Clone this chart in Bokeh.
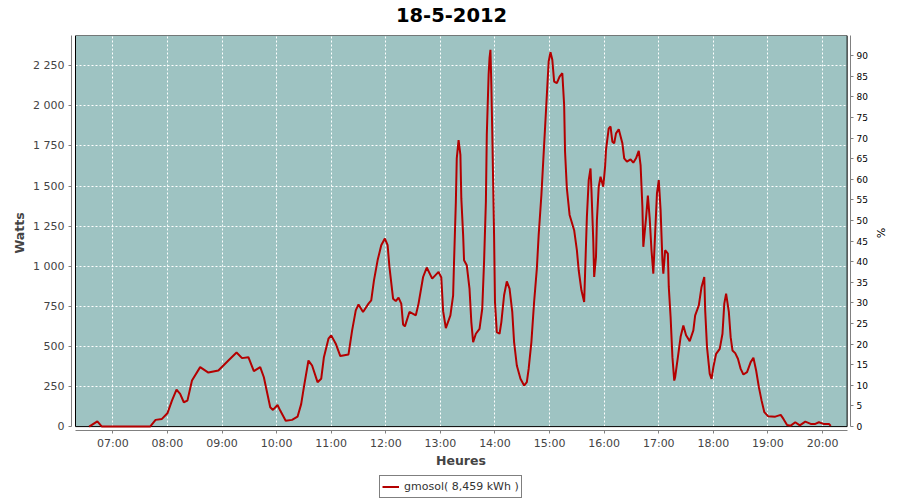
from bokeh.plotting import figure
from bokeh.layouts import column
from bokeh.models import (Range1d, LinearAxis, FixedTicker, BoxAnnotation,
                          Legend, LegendItem, Label)
from bokeh.embed import file_html
from bokeh.resources import INLINE

# ---------------- data ----------------
title_text = "18-5-2012"
series_name = "gmosol( 8,459 kWh )"
x_axis_label = "Heures"
y_axis_label = "Watts"
y2_axis_label = "%"

times = ["06:34", "06:43", "06:48", "07:41", "07:47", "07:54", "08:00", "08:05", "08:10", "08:14",
         "08:18", "08:22", "08:27", "08:36", "08:45", "08:56", "09:07", "09:16", "09:22", "09:29",
         "09:35", "09:42", "09:46", "09:53", "09:56", "10:01", "10:04", "10:10", "10:17", "10:23",
         "10:27", "10:30", "10:35", "10:39", "10:45", "10:49", "10:52", "10:57", "11:00", "11:05",
         "11:10", "11:19", "11:23", "11:27", "11:30", "11:35", "11:41", "11:44", "11:47", "11:51",
         "11:55", "11:59", "12:02", "12:04", "12:08", "12:11", "12:14", "12:17", "12:19", "12:21",
         "12:26", "12:33", "12:36", "12:41", "12:45", "12:51", "12:58", "13:01", "13:03", "13:06",
         "13:11", "13:14", "13:15", "13:17", "13:18", "13:20", "13:22", "13:23", "13:25", "13:26",
         "13:29", "13:32", "13:34", "13:36", "13:39", "13:43", "13:46", "13:48", "13:50", "13:51",
         "13:53", "13:54", "13:55", "13:56", "13:57", "13:59", "14:00", "14:02", "14:05", "14:07",
         "14:10", "14:13", "14:16", "14:19", "14:21", "14:24", "14:28", "14:32", "14:35", "14:37",
         "14:40", "14:43", "14:46", "14:48", "14:51", "14:54", "14:57", "14:59", "15:01", "15:03",
         "15:05", "15:08", "15:11", "15:14", "15:16", "15:17", "15:19", "15:22", "15:27", "15:30",
         "15:32", "15:35", "15:38", "15:39", "15:41", "15:43", "15:45", "15:46", "15:48", "15:49",
         "15:51", "15:52", "15:54", "15:56", "15:59", "16:01", "16:02", "16:05", "16:07", "16:09",
         "16:11", "16:13", "16:16", "16:20", "16:22", "16:25", "16:29", "16:32", "16:35", "16:38",
         "16:40", "16:42", "16:43", "16:46", "16:48", "16:50", "16:52", "16:54", "16:56", "16:58",
         "17:00", "17:02", "17:04", "17:05", "17:07", "17:10", "17:11", "17:13", "17:15", "17:17",
         "17:18", "17:21", "17:24", "17:27", "17:30", "17:34", "17:38", "17:40", "17:44", "17:47",
         "17:50", "17:51", "17:53", "17:56", "17:58", "18:00", "18:03", "18:07", "18:10", "18:12",
         "18:14", "18:17", "18:19", "18:21", "18:24", "18:27", "18:30", "18:33", "18:37", "18:41",
         "18:44", "18:47", "18:50", "18:53", "18:56", "19:00", "19:08", "19:14", "19:17", "19:21",
         "19:25", "19:30", "19:35", "19:41", "19:47", "19:52", "19:56", "20:01", "20:07", "20:09"]

watts = [0, 33, 0, 0, 42, 48, 83, 162, 231, 204,
         152, 162, 287, 371, 337, 350, 412, 462, 427, 433,
         346, 371, 308, 121, 104, 135, 100, 37, 42, 62,
         140, 246, 412, 381, 277, 298, 433, 548, 569, 517,
         440, 450, 600, 725, 762, 715, 767, 787, 912, 1037,
         1131, 1173, 1131, 996, 798, 783, 804, 767, 637, 625,
         715, 694, 767, 933, 992, 923, 965, 930, 720, 614,
         694, 819, 1027, 1402, 1673, 1787, 1694, 1423, 1194, 1037,
         1006, 860, 652, 527, 579, 610, 735, 1027, 1402, 1819,
         2194, 2298, 2350, 2131, 1839, 1194, 777, 589, 579, 652,
         819, 906, 860, 715, 527, 381, 298, 256, 277, 360,
         527, 777, 985, 1194, 1444, 1756, 2069, 2277, 2335, 2288,
         2152, 2142, 2183, 2204, 2006, 1714, 1485, 1320, 1225, 1100,
         975, 850, 777, 954, 1308, 1537, 1610, 1475, 1162, 933,
         1058, 1287, 1496, 1558, 1496, 1621, 1725, 1860, 1871, 1777,
         1767, 1829, 1854, 1767, 1673, 1652, 1667, 1646, 1673, 1719,
         1631, 1371, 1121, 1300, 1440, 1300, 1100, 954, 1204, 1454,
         1537, 1350, 1037, 954, 1100, 1079, 871, 683, 433, 287,
         308, 433, 560, 631, 570, 533, 600, 694, 756, 871,
         933, 725, 496, 329, 298, 371, 454, 485, 579, 767,
         829, 715, 558, 475, 458, 423, 360, 325, 340, 402,
         429, 350, 246, 162, 90, 65, 62, 73, 48, 10,
         6, 27, 8, 31, 17, 17, 27, 17, 17, 4]

x_tick_labels = ["07:00", "08:00", "09:00", "10:00", "11:00", "12:00", "13:00",
                 "14:00", "15:00", "16:00", "17:00", "18:00", "19:00", "20:00"]
y_ticks = [0, 250, 500, 750, 1000, 1250, 1500, 1750, 2000, 2250]
y_tick_labels = ["0", "250", "500", "750", "1 000", "1 250", "1 500", "1 750", "2 000", "2 250"]
pct_ticks = [0, 5, 10, 15, 20, 25, 30, 35, 40, 45, 50, 55, 60, 65, 70, 75, 80, 85, 90]


def to_minutes(t):
    h, m = t.split(":")
    return int(h) * 60 + int(m)


xs = [to_minutes(t) for t in times]
x_ticks = [to_minutes(t) for t in x_tick_labels]

# ---------------- style ----------------
PLOT_BG = "#9EC3C2"
LINE_COL = "#B40000"
AXIS_COL = "#808080"
TEXT_COL = "#444444"
FONT = "DejaVu Sans"
W = 900
BORDER_L, BORDER_R = 71, 50

data_x0, data_x1 = 379, 1227     # minutes: visible data area
data_y1 = 2439

# ---------------- title strip ----------------
hd = figure(width=W, height=30, output_backend="svg", toolbar_location=None,
            x_axis_location=None, y_axis_location=None, title=None,
            x_range=Range1d(BORDER_L, W - BORDER_R), y_range=Range1d(0, 30),
            min_border_left=BORDER_L, min_border_right=BORDER_R,
            min_border_top=0, min_border_bottom=0)
hd.outline_line_color = None
hd.xgrid.visible = False
hd.ygrid.visible = False
hd.background_fill_color = "white"
hd.border_fill_color = "white"
hd.add_layout(Label(x=451, y=16, text=title_text, text_align="center",
                    text_baseline="middle", text_font=FONT, text_font_size="19.5px",
                    text_font_style="bold", text_color="black"))

# ---------------- main chart ----------------
p = figure(width=W, height=440, output_backend="svg", toolbar_location=None, title=None,
           x_range=Range1d(374.6, 1230.7), y_range=Range1d(-24.3, data_y1),
           min_border_left=BORDER_L, min_border_right=BORDER_R,
           min_border_top=5, min_border_bottom=40)
p.outline_line_color = None
p.background_fill_color = "white"
p.border_fill_color = "white"

p.extra_y_ranges = {"pct": Range1d(-0.95, 94.9)}

bg = BoxAnnotation(left=data_x0, right=data_x1, bottom=0, top=data_y1,
                   fill_color=PLOT_BG, fill_alpha=1, line_color=None, level="image")
p.add_layout(bg)

p.xgrid.ticker = FixedTicker(ticks=x_ticks)
p.ygrid.ticker = FixedTicker(ticks=y_ticks[1:])
for g in (p.xgrid, p.ygrid):
    g.grid_line_color = "white"
    g.grid_line_width = 1
    g.grid_line_dash = "2 2"
    g.grid_line_alpha = 1

border = BoxAnnotation(left=data_x0, right=data_x1, bottom=0, top=data_y1,
                       fill_alpha=0, line_color="black", line_width=1, line_alpha=1,
                       level="underlay")
p.add_layout(border)

p.line(xs, watts, line_color=LINE_COL, line_width=2)

xa = p.xaxis[0]
xa.ticker = FixedTicker(ticks=x_ticks)
xa.major_label_overrides = {t: l for t, l in zip(x_ticks, x_tick_labels)}
xa.bounds = (data_x0, data_x1)
xa.axis_label = x_axis_label
xa.axis_label_standoff = 0
xa.major_label_standoff = 3

ya = p.yaxis[0]
ya.ticker = FixedTicker(ticks=y_ticks)
ya.major_label_overrides = {t: l for t, l in zip(y_ticks, y_tick_labels)}
ya.bounds = (0, data_y1)
ya.axis_label = y_axis_label
ya.axis_label_standoff = 3
ya.major_label_standoff = 4

ra = LinearAxis(y_range_name="pct", ticker=FixedTicker(ticks=pct_ticks),
                axis_label=y2_axis_label, bounds=(0, 94.9))
p.add_layout(ra, "right")
ra.axis_label_standoff = 3
ra.major_label_standoff = 3

for ax in (xa, ya, ra):
    ax.axis_line_color = AXIS_COL
    ax.axis_line_width = 1
    ax.major_tick_line_color = AXIS_COL
    ax.major_tick_in = 0
    ax.major_tick_out = 3
    ax.minor_tick_line_color = None
    ax.major_label_text_font = FONT
    ax.major_label_text_font_size = "11px"
    ax.major_label_text_color = TEXT_COL
    ax.axis_label_text_font = FONT
    ax.axis_label_text_font_size = "12.5px"
    ax.axis_label_text_font_style = "bold"
    ax.axis_label_text_color = TEXT_COL
ra.major_label_text_font_size = "9px"
ra.major_label_text_color = "black"
ra.axis_label_text_font_style = "normal"
ra.axis_label_text_font_size = "11px"
ra.axis_label_text_color = "black"

# ---------------- legend strip ----------------
lg = figure(width=W, height=30, output_backend="svg", toolbar_location=None,
            x_axis_location=None, y_axis_location=None, title=None,
            x_range=Range1d(0, 1), y_range=Range1d(0, 1),
            min_border_left=BORDER_L, min_border_right=BORDER_R,
            min_border_top=0, min_border_bottom=0)
lg.outline_line_color = None
lg.xgrid.visible = False
lg.ygrid.visible = False
lg.background_fill_color = "white"
lg.border_fill_color = "white"
key = lg.line([-10, -9], [-10, -9], line_color=LINE_COL, line_width=2)

legend = Legend(items=[LegendItem(label=series_name, renderers=[key])], location=(308, 2))
legend.border_line_color = "black"
legend.border_line_width = 1
legend.background_fill_color = "white"
legend.background_fill_alpha = 1
legend.padding = 2
legend.spacing = 0
legend.margin = 0
legend.glyph_width = 17
legend.glyph_height = 17
legend.label_height = 17
legend.label_standoff = 5
legend.label_text_font = FONT
legend.label_text_font_size = "11px"
legend.label_text_color = "#333333"
lg.add_layout(legend, "center")

layout = column(hd, p, lg, spacing=0)
open("out.html", "w").write(file_html(layout, INLINE, title=title_text))
